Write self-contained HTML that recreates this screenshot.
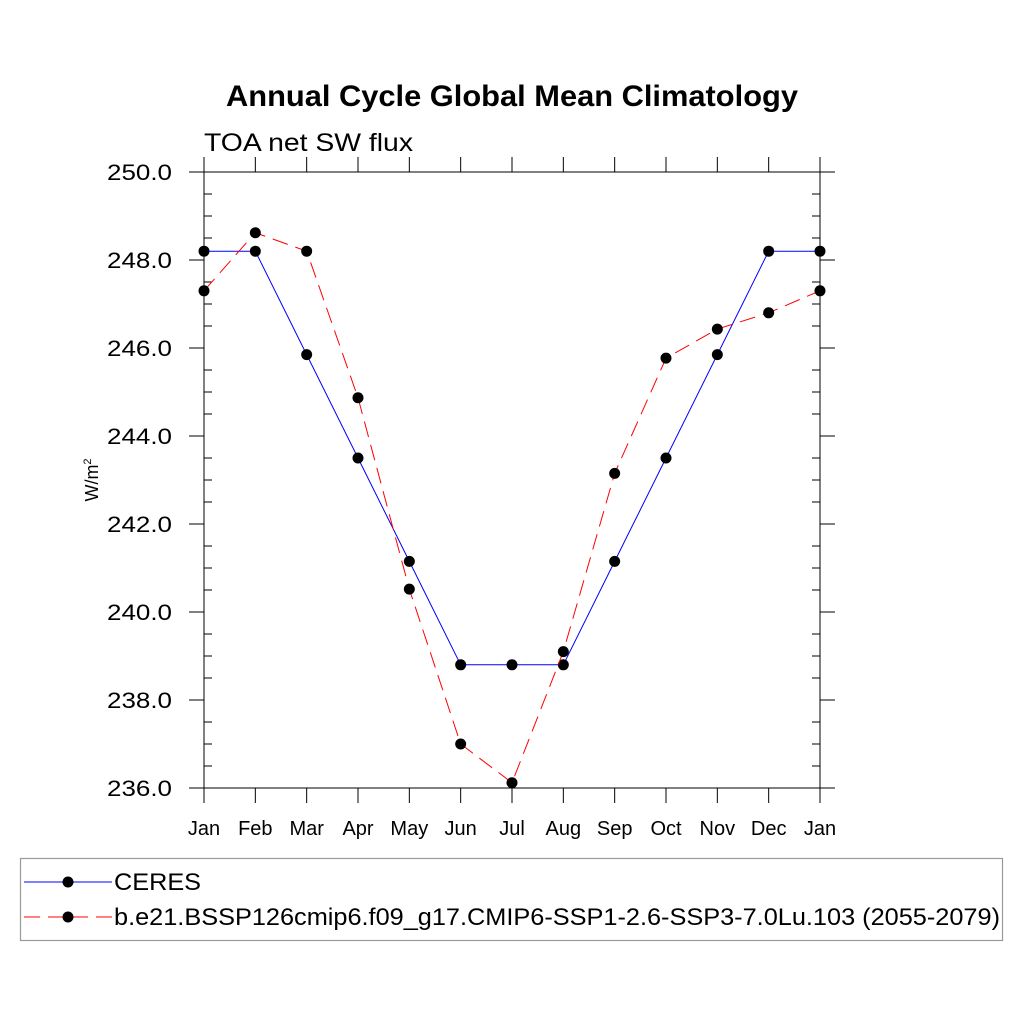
<!DOCTYPE html>
<html><head><meta charset="utf-8"><style>
body{margin:0;background:#fff;width:1024px;height:1024px;overflow:hidden}
text{font-family:"Liberation Sans",sans-serif}
</style></head><body>
<svg id="chart" width="1024" height="1024" xmlns="http://www.w3.org/2000/svg">
<text x="226" y="106" font-size="30" font-weight="bold" textLength="572" lengthAdjust="spacingAndGlyphs">Annual Cycle Global Mean Climatology</text>
<text x="204" y="151" font-size="25" textLength="209" lengthAdjust="spacingAndGlyphs">TOA net SW flux</text>
<text transform="translate(98,480) rotate(-90)" text-anchor="middle" font-size="18">W/m<tspan font-size="11" dy="-7">2</tspan></text>
<g id="axes"></g>
<g id="series"></g>
<g>
<rect x="20.5" y="858.5" width="982" height="82" fill="none" stroke="#999" stroke-width="1.2"/>
<line x1="24" y1="882" x2="112" y2="882" stroke="#0000ff" stroke-width="1"/>
<circle cx="68" cy="882" r="5.5" fill="#000"/>
<text x="114" y="890" font-size="24" textLength="87" lengthAdjust="spacingAndGlyphs">CERES</text>
<line x1="24" y1="917" x2="112" y2="917" stroke="#ff0000" stroke-width="1" stroke-dasharray="16,8"/>
<circle cx="68" cy="917" r="5.5" fill="#000"/>
<text x="114" y="925" font-size="24" textLength="886" lengthAdjust="spacingAndGlyphs">b.e21.BSSP126cmip6.f09_g17.CMIP6-SSP1-2.6-SSP3-7.0Lu.103 (2055-2079)</text>
</g>
</svg>
<script>
const months=["Jan","Feb","Mar","Apr","May","Jun","Jul","Aug","Sep","Oct","Nov","Dec","Jan"];
const ceres=[248.2,248.2,245.85,243.5,241.15,238.8,238.8,238.8,241.15,243.5,245.85,248.2,248.2];
const model=[247.3,248.62,248.2,244.87,240.52,237.0,236.12,239.1,243.15,245.77,246.43,246.8,247.3];
const yTicks=[236,238,240,242,244,246,248,250];
const yMin=236,yMax=250;
const X0=204,X1=820,Y0=788,Y1=172;
const NS="http://www.w3.org/2000/svg";
function xs(i){return X0+(X1-X0)*i/(months.length-1);}
function ys(v){return Y0-(v-yMin)/(yMax-yMin)*(Y0-Y1);}
function mk(tag,attrs,parent){const e=document.createElementNS(NS,tag);for(const k in attrs)e.setAttribute(k,attrs[k]);parent.appendChild(e);return e;}
const ax=document.getElementById('axes');
const frame=mk('rect',{x:X0,y:Y1,width:X1-X0,height:Y0-Y1,fill:'none',stroke:'#000','stroke-width':1},ax);


for(let v=yMin;v<=yMax+1e-9;v+=0.5){
  const y=ys(v);
  const major=Math.abs(v/2-Math.round(v/2))<1e-9;
  if(major){
    mk('line',{x1:X0-15,y1:y,x2:X0,y2:y,stroke:'#000'},ax);
    mk('line',{x1:X1,y1:y,x2:X1+15,y2:y,stroke:'#000'},ax);
  }else{
    mk('line',{x1:X0,y1:y,x2:X0+8,y2:y,stroke:'#000'},ax);
    mk('line',{x1:X1-8,y1:y,x2:X1,y2:y,stroke:'#000'},ax);
  }
}
yTicks.forEach(v=>{
  const t=mk('text',{x:X0-32,y:ys(v)+8,'text-anchor':'end','font-size':'22',textLength:'65',lengthAdjust:'spacingAndGlyphs'},ax);
  t.textContent=v.toFixed(1);
  
  
});
months.forEach((m,i)=>{
  const x=xs(i);
  mk('line',{x1:x,y1:Y0,x2:x,y2:Y0+15,stroke:'#000'},ax);
  mk('line',{x1:x,y1:Y1-15,x2:x,y2:Y1,stroke:'#000'},ax);
  const t=mk('text',{x:x,y:835,'text-anchor':'middle','font-size':'20'},ax);
  t.textContent=m;
  
  
});
const sg=document.getElementById('series');
function draw(vals,color,dash,name){
  const pts=vals.map((v,i)=>xs(i)+','+ys(v)).join(' ');
  const pl=mk('polyline',{points:pts,fill:'none',stroke:color,'stroke-width':1,'stroke-dasharray':dash},sg);
  
  
  vals.forEach((v,i)=>{
    const c=mk('circle',{cx:xs(i),cy:ys(v),r:5.5,fill:'#000'},sg);
    
    
  });
}
draw(ceres,'#0000ff','none','ceres');
draw(model,'#ff0000','16,8','model');
</script>
</body></html>
